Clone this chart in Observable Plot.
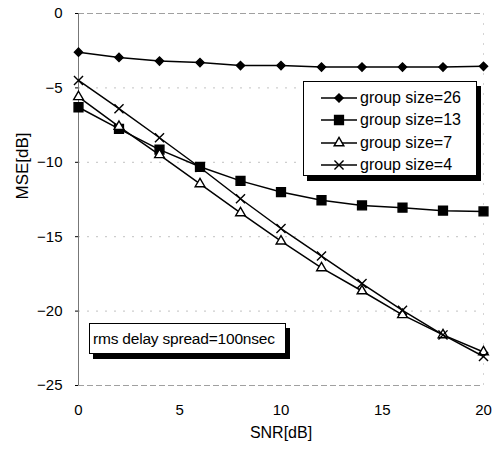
<!DOCTYPE html>
<html>
<head>
<meta charset="utf-8">
<script src="https://cdn.jsdelivr.net/npm/d3@7"></script>
<script src="https://cdn.jsdelivr.net/npm/@observablehq/plot@0.6"></script>
<style>
  body { margin: 0; background: #fff; }
  #chart { position: relative; width: 500px; height: 453px; font-family: "Liberation Sans", Arial, sans-serif; color: #000; }
  .box { position: absolute; background: #fff; border: 1px solid #000; box-shadow: 4px 5px 0 #000; box-sizing: border-box; }
  #legend { left: 303px; top: 81px; width: 174px; height: 95px; padding-top: 5px; }
  .row { display: flex; align-items: center; height: 22.3px; font-size: 16px; white-space: nowrap; }
  .row svg { margin-left: 17px; margin-right: 3px; }
  #note { left: 89px; top: 323px; width: 197px; height: 31px; font-size: 15.5px; letter-spacing: -0.2px; line-height: 29px; padding-left: 3px; white-space: nowrap; overflow: visible; }
</style>
</head>
<body>
<div id="chart"></div>
<script>
// SNR in dB (x axis)
const snr = [0, 2, 4, 6, 8, 10, 12, 14, 16, 18, 20];

// MSE in dB for each group size
const mse26 = [-2.6, -2.95, -3.2, -3.3, -3.5, -3.5, -3.6, -3.6, -3.6, -3.6, -3.55];
const mse13 = [-6.3, -7.75, -9.15, -10.3, -11.25, -12.0, -12.55, -12.9, -13.05, -13.25, -13.3];
const mse7  = [-5.6, -7.6, -9.5, -11.45, -13.4, -15.3, -17.1, -18.65, -20.25, -21.6, -22.75];
const mse4  = [-4.5, -6.4, -8.35, -10.35, -12.45, -14.45, -16.3, -18.15, -19.95, -21.6, -23.05];

const seriesNames = ["group size=26", "group size=13", "group size=7", "group size=4"];
const seriesValues = [mse26, mse13, mse7, mse4];

const xTicks = [0, 5, 10, 15, 20];
const yTicks = [0, -5, -10, -15, -20, -25];
const xLabel = "SNR[dB]";
const yLabel = "MSE[dB]";
const note = "rms delay spread=100nsec";

// marker look for each series
const markerStyle = {
  "group size=26": {symbol: "diamond2", r: 3.7, fill: "black", stroke: "black"},
  "group size=13": {symbol: "square", r: 5.0, fill: "black", stroke: "black"},
  "group size=7":  {symbol: "triangle", r: 3.6, fill: "white", stroke: "black"},
  "group size=4":  {symbol: "times", r: 4.2, fill: "none", stroke: "black"}
};

const rows = seriesNames.flatMap((name, i) =>
  snr.map((x, j) => ({series: name, snr: x, mse: seriesValues[i][j]}))
);

const marks = [
  Plot.gridY(yTicks.filter(d => d !== 0 && d !== -25), {stroke: "#999", strokeOpacity: 0.6, strokeDasharray: "2,7"}),
  Plot.ruleY([0, -25], {stroke: "#888", strokeOpacity: 0.8, strokeDasharray: "6,3"}),
  Plot.ruleX([20], {stroke: "#aaa", strokeOpacity: 0.5, strokeDasharray: "2,8"}),
  Plot.ruleX([0], {stroke: "#777", strokeWidth: 1}),
  Plot.axisY({ticks: yTicks, tickSize: 3, tickPadding: 13, fontSize: 15, label: null}),
  Plot.axisX({ticks: xTicks, tickSize: 0, tickPadding: 19, fontSize: 15, label: null}),
  // axis titles
  Plot.text([yLabel], {frameAnchor: "left", dx: -56, rotate: -90, fontSize: 17, fill: "black"}),
  Plot.text([xLabel], {frameAnchor: "bottom", dy: 52, fontSize: 16, fill: "black"})
];

for (const name of seriesNames) {
  const data = rows.filter(d => d.series === name);
  const s = markerStyle[name];
  marks.push(Plot.line(data, {x: "snr", y: "mse", stroke: "black", strokeWidth: 1.5}));
  marks.push(Plot.dot(data, {x: "snr", y: "mse", symbol: s.symbol, r: s.r, fill: s.fill, stroke: s.stroke, strokeWidth: 1.4}));
}

const plot = Plot.plot({
  width: 500,
  height: 453,
  marginLeft: 78,
  marginRight: 17,
  marginTop: 13,
  marginBottom: 68,
  style: {fontFamily: "Liberation Sans, Arial, sans-serif", fontSize: "15px", color: "#000", background: "#fff", overflow: "visible"},
  x: {domain: [0, 20]},
  y: {domain: [-25, 0]},
  marks
});

const chart = document.getElementById("chart");
chart.appendChild(plot);

// legend box with line + marker samples
const typeMap = {diamond2: d3.symbolDiamond2, square: d3.symbolSquare, triangle: d3.symbolTriangle, times: d3.symbolTimes};
const legend = document.createElement("div");
legend.className = "box";
legend.id = "legend";
for (const name of seriesNames) {
  const s = markerStyle[name];
  const row = document.createElement("div");
  row.className = "row";
  const svg = d3.create("svg").attr("width", 36).attr("height", 16);
  svg.append("line").attr("x1", 0).attr("x2", 36).attr("y1", 8).attr("y2", 8)
    .attr("stroke", "black").attr("stroke-width", 1.5);
  svg.append("path")
    .attr("d", d3.symbol().type(typeMap[s.symbol]).size(Math.PI * s.r * s.r)())
    .attr("transform", "translate(18,8)")
    .attr("fill", s.fill).attr("stroke", s.stroke).attr("stroke-width", 1.4);
  row.appendChild(svg.node());
  const label = document.createElement("span");
  label.textContent = name;
  row.appendChild(label);
  legend.appendChild(row);
}
chart.appendChild(legend);

// annotation box
const noteBox = document.createElement("div");
noteBox.className = "box";
noteBox.id = "note";
noteBox.textContent = note;
chart.appendChild(noteBox);
</script>
</body>
</html>
